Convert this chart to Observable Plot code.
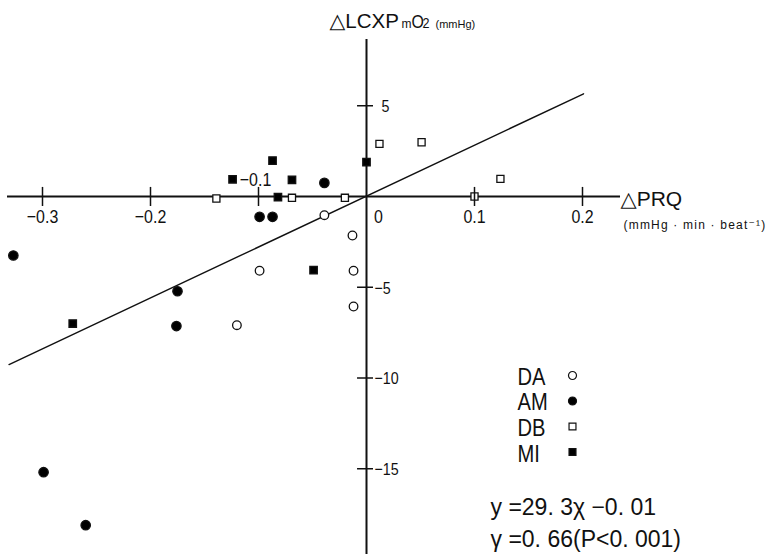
<!DOCTYPE html>
<html><head><meta charset="utf-8">
<script src="https://cdn.jsdelivr.net/npm/d3@7"></script>
<script src="https://cdn.jsdelivr.net/npm/@observablehq/plot@0.6"></script>
<style>
body{margin:0;background:#fff;}
#chart{width:769px;height:554px;}
</style></head><body><div id="chart"></div>
<script>
// ---- data ----
const groups = ["DA", "AM", "DB", "MI"];
const daX = [-0.039, -0.013, -0.099, -0.012, -0.012, -0.120];
const daY = [-1.03, -2.15, -4.09, -4.09, -6.06, -7.09];
const amX = [-0.039, -0.099, -0.087, -0.327, -0.175, -0.176, -0.299, -0.260];
const amY = [0.75, -1.12, -1.12, -3.25, -5.22, -7.14, -15.19, -18.11];
const dbX = [0.012, 0.051, 0.124, 0.100, -0.139, -0.069, -0.020];
const dbY = [2.90, 2.99, 0.97, 0.00, -0.11, -0.07, -0.07];
const miX = [-0.087, 0.000, -0.124, -0.069, -0.082, -0.049, -0.272];
const miY = [1.98, 1.89, 0.95, 0.92, -0.04, -4.06, -7.00];
const fitX = [-0.331, 0.201];
const fitY = [-9.26, 5.66];
const xTicks = [-0.3, -0.2, -0.1, 0, 0.1, 0.2];
const xTickLabels = ["−0.3", "−0.2", "−0.1", "0", "0.1", "0.2"];
const yTicks = [5, -5, -10, -15];
const yTickLabels = ["5", "−5", "−10", "−15"];
const xAxisExtent = [-0.3324, 0.2352];
const yAxisExtent = [-19.72, 8.65];
const eqLine1 = "y =29. 3χ −0. 01";
const eqLine2 = "γ =0. 66(P<0. 001)";

// ---- styles ----
const style = {
  DA: {symbol: "circle", fill: "white", r: 4.3},
  AM: {symbol: "circle", fill: "black", r: 4.7},
  DB: {symbol: "square", fill: "white", r: 4.0},
  MI: {symbol: "square", fill: "black", r: 4.2}
};
const series = {DA: [daX, daY], AM: [amX, amY], DB: [dbX, dbY], MI: [miX, miY]};
const REG = "'Liberation Sans',Arial,'DejaVu Sans',sans-serif";
const INK = "#111";

const rows = groups.flatMap(g => series[g][0].map((x, i) => ({group: g, x, y: series[g][1][i]})));
const fit = fitX.map((x, i) => ({x, y: fitY[i]}));
const xLab = xTicks.map((x, i) => ({x, label: xTickLabels[i]}));
const yLab = yTicks.map((y, i) => ({y, label: yTickLabels[i]}));

const abs = (text, dx, dy, opts) => Plot.text([text], Object.assign({text: d => d, frameAnchor: "top-left", dx, dy, textAnchor: "start", lineAnchor: "bottom", fill: INK, fontFamily: REG}, opts));
const tickText = (data, opts) => Plot.text(data, Object.assign({fontFamily: REG, fill: INK, ariaDescription: "narrow"}, opts));

const marks = [
  Plot.ruleY([0], {x1: xAxisExtent[0], x2: xAxisExtent[1], stroke: INK, strokeWidth: 2}),
  Plot.ruleX([0], {y1: yAxisExtent[0], y2: yAxisExtent[1], stroke: INK, strokeWidth: 2}),
  Plot.line(fit, {x: "x", y: "y", stroke: INK, strokeWidth: 1.4}),
  ...groups.map(g => Plot.dot(rows.filter(d => d.group === g), {x: "x", y: "y", symbol: style[g].symbol, r: style[g].r, fill: style[g].fill, stroke: INK, strokeWidth: 1.3})),
  Plot.ruleX(xTicks.filter(d => d !== 0), {x: d => d, y1: -0.55, y2: 0.5, stroke: INK, strokeWidth: 1.5}),
  Plot.ruleY(yTicks, {y: d => d, x1: -0.0083, x2: 0.0065, stroke: INK, strokeWidth: 1.5}),
  tickText(xLab.filter(d => d.x !== 0 && d.x !== -0.1), {x: "x", y: 0, text: "label", dy: 26, lineAnchor: "bottom", textAnchor: "middle", fontSize: 19}),
  tickText(xLab.filter(d => d.x === 0), {x: "x", y: 0, text: "label", dx: 12, dy: 26, lineAnchor: "bottom", textAnchor: "middle", fontSize: 19}),
  tickText(xLab.filter(d => d.x === -0.1), {x: "x", y: 0, text: "label", dx: -3, dy: -11, lineAnchor: "bottom", textAnchor: "middle", fontSize: 19}),
  tickText(yLab.filter(d => d.y > 0), {x: 0, y: "y", text: "label", dx: 15, dy: 1, lineAnchor: "middle", textAnchor: "start", fontSize: 17}),
  tickText(yLab.filter(d => d.y < 0), {x: 0, y: "y", text: "label", dx: 8, dy: 1, lineAnchor: "middle", textAnchor: "start", fontSize: 17}),
  // title pieces
  abs("△LCXP", 329, 27, {fontSize: 20.5}),
  abs("m", 401, 27, {fontSize: 12}),
  abs("O", 411, 27, {fontSize: 19, ariaDescription: "narrow"}),
  abs("2", 422, 27, {fontSize: 15, ariaDescription: "narrow"}),
  abs("(mmHg)", 435, 27, {fontSize: 11}),
  // x axis label
  abs("△PRQ", 620, 205, {fontSize: 21}),
  abs("(mmHg · min · beat⁻¹)", 623, 228, {fontSize: 12, ariaDescription: "spaced"}),
  // equations
  abs(eqLine1, 490, 514, {fontSize: 23}),
  abs(eqLine2, 490, 546, {fontSize: 23})
];
// legend
groups.forEach((g, i) => {
  marks.push(abs(g, 517, 384 + i * 25.7, {fontSize: 24, ariaDescription: "narrow"}));
  marks.push(Plot.dot([g], {frameAnchor: "top-left", dx: 572, dy: 375 + i * 25.5, symbol: style[g].symbol, r: style[g].symbol === "circle" ? 4 : 3.9, fill: style[g].fill, stroke: INK, strokeWidth: 1.2}));
});

const chart = Plot.plot({
  width: 769, height: 554,
  margin: 0,
  x: {domain: [-366 / 1080, 403 / 1080]},
  y: {domain: [(196 - 554) / 18.15, 196 / 18.15]},
  axis: null,
  style: {background: "white", overflow: "visible"},
  marks
});
// condensed typewriter-like lettering of the original figure
chart.querySelectorAll('g[aria-description="narrow"] text').forEach(t => {
  t.setAttribute("transform", (t.getAttribute("transform") || "") + " scale(0.84,1)");
});
chart.querySelectorAll('g[aria-description="spaced"] text').forEach(t => {
  t.style.letterSpacing = "1.2px";
});
document.getElementById("chart").appendChild(chart);
</script></body></html>
